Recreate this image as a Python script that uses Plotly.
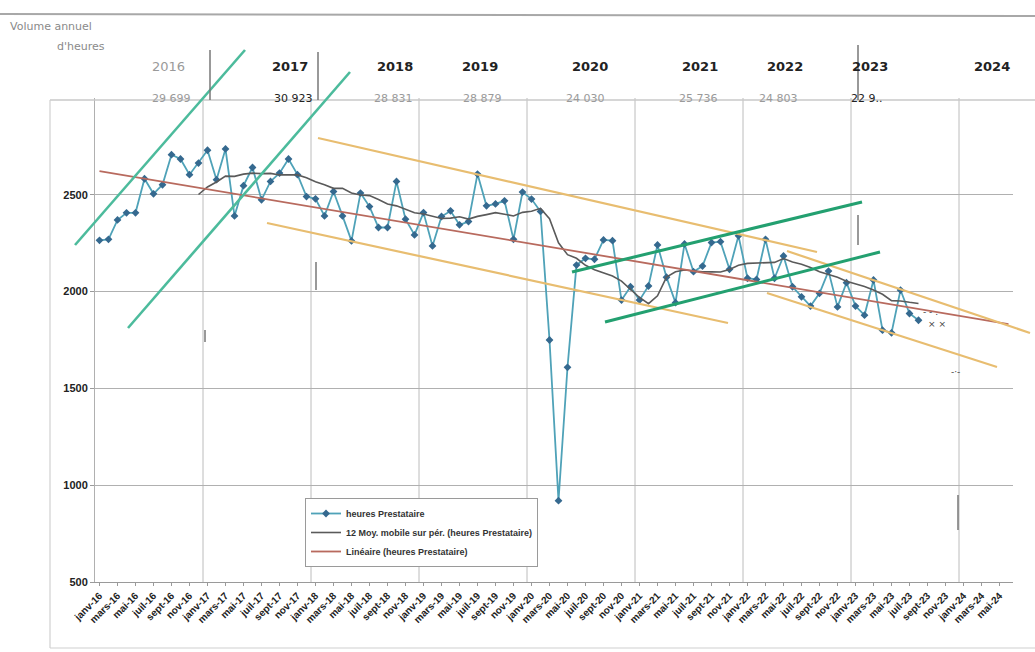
import numpy as np
import pandas as pd
import plotly.graph_objects as go

# ---------------- data ----------------
MOIS = ["janv", "févr", "mars", "avr", "mai", "juin", "juil", "août", "sept", "oct", "nov", "déc"]
YEARS_SHORT = ["16", "17", "18", "19", "20", "21", "22", "23", "24"]
MONTH_LABELS = [f"{m}-{y}" for y in YEARS_SHORT for m in MOIS][:102]   # janv-16 .. juin-24

H2016 = [2265, 2270, 2370, 2407, 2407, 2583, 2505, 2552, 2707, 2685, 2604, 2664]
H2017 = [2730, 2578, 2737, 2391, 2547, 2641, 2474, 2569, 2612, 2685, 2604, 2491]
H2018 = [2479, 2391, 2517, 2391, 2262, 2509, 2439, 2331, 2331, 2569, 2374, 2293]
H2019 = [2408, 2236, 2388, 2417, 2345, 2362, 2607, 2443, 2453, 2469, 2270, 2514]
H2020 = [2478, 2414, 1750, 920, 1609, 2137, 2172, 2167, 2267, 2263, 1956, 2025]
H2021 = [1956, 2029, 2241, 2074, 1943, 2246, 2103, 2132, 2253, 2258, 2115, 2288]
H2022 = [2069, 2063, 2270, 2069, 2184, 2025, 1973, 1925, 1991, 2106, 1921, 2046]
H2023 = [1925, 1878, 2060, 1801, 1787, 2008, 1887, 1852]

HEURES = H2016 + H2017 + H2018 + H2019 + H2020 + H2021 + H2022 + H2023

ANNEES = ["2016", "2017", "2018", "2019", "2020", "2021", "2022", "2023", "2024"]
TOTAUX = ["29 699", "30 923", "28 831", "28 879", "24 030", "25 736", "24 803", "22 9..", ""]

Y_TICKS = [500, 1000, 1500, 2000, 2500]

# ---------------- derived trend lines (as in the spreadsheet) ----------------
s = pd.Series(HEURES, dtype=float)
moy_mobile = s.rolling(12).mean()
idx = np.arange(len(HEURES))
slope, intercept = np.polyfit(idx, s.values, 1)
lin_idx = np.arange(0, len(MONTH_LABELS))
lin_vals = intercept + slope * lin_idx

# ---------------- layout helpers (pixel -> paper) ----------------
L, R, T, B = 95, 1013, 98, 582
def px(x):
    return (x - L) / (R - L)
def py(y):
    return (B - y) / (B - T)

fig = go.Figure()

fig.add_trace(go.Scatter(
    x=MONTH_LABELS[:len(HEURES)], y=HEURES, mode="lines+markers",
    name="heures Prestataire",
    line=dict(color="#4fa2b8", width=1.8),
    marker=dict(symbol="diamond", size=6, color="#35698f"),
))
fig.add_trace(go.Scatter(
    x=MONTH_LABELS[11:len(HEURES)], y=moy_mobile.values[11:], mode="lines",
    name="12 Moy. mobile sur pér. (heures Prestataire)",
    line=dict(color="#5a5a5a", width=1.6),
))
fig.add_trace(go.Scatter(
    x=[MONTH_LABELS[i] for i in lin_idx], y=lin_vals, mode="lines",
    name="Linéaire (heures Prestataire)",
    line=dict(color="#b86a5e", width=1.8),
))

shapes = []
# vertical year gridlines
for k in range(1, 9):
    shapes.append(dict(type="line", xref="x", yref="paper", x0=12 * k - 0.5, x1=12 * k - 0.5,
                       y0=0, y1=1, line=dict(color="#bcbcbc", width=1), layer="below"))

# chart frame and scan edge
shapes.append(dict(type="line", xref="paper", yref="paper", x0=px(50), x1=px(1035), y0=py(100), y1=py(100),
                   line=dict(color="#c8c8c8", width=1.5)))
shapes.append(dict(type="line", xref="paper", yref="paper", x0=px(50), x1=px(50), y0=py(100), y1=py(648),
                   line=dict(color="#d0d0d0", width=1.2)))
shapes.append(dict(type="line", xref="paper", yref="paper", x0=px(50), x1=px(1035), y0=py(648), y1=py(648),
                   line=dict(color="#d0d0d0", width=1.2)))
shapes.append(dict(type="line", xref="paper", yref="paper", x0=px(0), x1=px(1035), y0=py(14), y1=py(16),
                   line=dict(color="#a8a8a8", width=2)))

# hand-drawn channel lines (pixel endpoints in the scan)
GREEN_LINES = [((75, 245), (245, 50)), ((128, 328), (350, 72)),
               ((572, 272), (862, 202)), ((605, 322), (880, 252))]
ORANGE_LINES = [((318, 138), (817, 252)), ((267, 223), (728, 323)),
                ((787, 251), (1030, 333)), ((767, 293), (997, 367))]
for (a, b) in ORANGE_LINES:
    shapes.append(dict(type="line", xref="paper", yref="paper", x0=px(a[0]), y0=py(a[1]),
                       x1=px(b[0]), y1=py(b[1]), line=dict(color="#e8bd70", width=2.2)))
for i, (a, b) in enumerate(GREEN_LINES):
    shapes.append(dict(type="line", xref="paper", yref="paper", x0=px(a[0]), y0=py(a[1]),
                       x1=px(b[0]), y1=py(b[1]),
                       line=dict(color="#4cbb9c" if i < 2 else "#23a070", width=2.6 if i < 2 else 3)))

# handwritten separators
for (x, y0, y1) in [(210, 50, 100), (318, 52, 100), (858, 45, 100), (858, 215, 245), (316, 262, 290),
                    (205, 330, 342), (958, 495, 530)]:
    shapes.append(dict(type="line", xref="paper", yref="paper", x0=px(x), x1=px(x), y0=py(y0), y1=py(y1),
                       line=dict(color="#777777", width=1.5)))

annotations = []
YEAR_X = [150, 270, 375, 480, 590, 700, 805, 890, 1012]
TOT_X = [150, 272, 372, 482, 585, 698, 800, 885, 1012]
for i, (yr, tot) in enumerate(zip(ANNEES, TOTAUX)):
    annotations.append(dict(x=px(YEAR_X[i]), y=py(57), xref="paper", yref="paper", text=yr,
                            showarrow=False, font=dict(family="DejaVu Sans", size=13,
                                                       weight="normal" if i == 0 else "bold",
                                                       color="#9a9a9a" if i == 0 else "#222222")))
    if tot:
        annotations.append(dict(x=px(TOT_X[i]), y=py(90), xref="paper", yref="paper", text=tot,
                                showarrow=False, font=dict(family="DejaVu Sans", size=11,
                                                           color="#222222" if i in (1, 7) else "#9a9a9a")))
annotations.append(dict(x=px(8), y=py(18), xref="paper", yref="paper", text="Volume annuel",
                        xanchor="left", showarrow=False,
                        font=dict(family="DejaVu Sans", size=11, color="#8a8a8a")))
annotations.append(dict(x=px(55), y=py(38), xref="paper", yref="paper", text="d'heures",
                        xanchor="left", showarrow=False,
                        font=dict(family="DejaVu Sans", size=11, color="#8a8a8a")))
for (x, y, t) in [(948, 324, "× ×"), (940, 312, "- - ."), (962, 372, "-·-")]:
    annotations.append(dict(x=px(x), y=py(y), xref="paper", yref="paper", text=t, showarrow=False,
                            font=dict(family="DejaVu Sans", size=9, color="#444444")))

fig.update_layout(
    width=1035, height=652,
    margin=dict(l=L, r=1035 - R, t=T, b=652 - B),
    paper_bgcolor="white", plot_bgcolor="white",
    showlegend=True,
    legend=dict(x=px(305), y=py(498), xanchor="left", yanchor="top",
                bgcolor="white", bordercolor="#9a9a9a", borderwidth=1,
                font=dict(family="Liberation Sans", size=9, color="#333333", weight="bold"),
                tracegroupgap=0, itemwidth=30),
    shapes=shapes,
    annotations=annotations,
    xaxis=dict(type="category", categoryorder="array", categoryarray=MONTH_LABELS,
               range=[-0.5, len(MONTH_LABELS) - 0.5],
               tickmode="array", tickvals=MONTH_LABELS[::2], ticktext=MONTH_LABELS[::2],
               tickangle=-45, showgrid=False, zeroline=False,
               showline=True, linecolor="#9a9a9a", linewidth=1,
               ticks="outside", ticklen=3, tickcolor="#9a9a9a",
               tickfont=dict(family="Liberation Sans", size=10, color="#222222", weight="bold")),
    yaxis=dict(range=[500, 3000], tickmode="array", tickvals=Y_TICKS,
               showgrid=True, gridcolor="#b0b0b0", gridwidth=1, zeroline=False,
               showline=True, linecolor="#b0b0b0", ticks="outside", ticklen=4, tickcolor="#9a9a9a",
               tickfont=dict(family="Liberation Sans", size=11, color="#222222", weight="bold")),
)

fig.write_html("out.html")
